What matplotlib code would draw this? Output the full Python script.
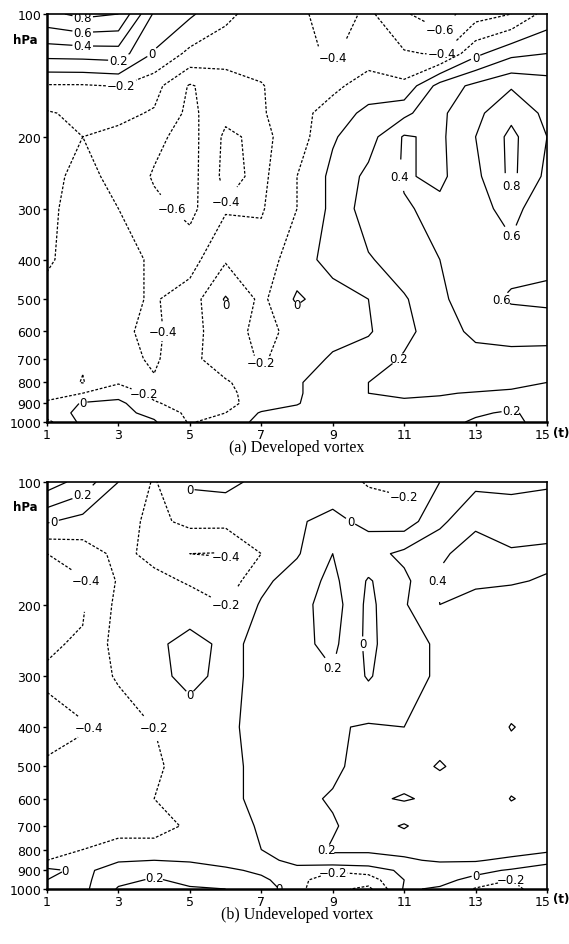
import numpy as np
import matplotlib
matplotlib.use("Agg")
import matplotlib.pyplot as plt
from matplotlib.ticker import FixedLocator, NullLocator
from matplotlib.transforms import ScaledTranslation

# time steps and pressure levels of the grid
t_steps = [1, 2, 3, 4, 5, 6, 7, 8, 9, 10, 11, 12, 13, 14, 15]
levels_hpa = [100, 125, 150, 175, 200, 250, 300, 400, 500, 600, 700, 800, 850, 900, 950, 1000]

# (a) developed vortex, one row per pressure level
developed = [
    [0.75, 0.85, 0.80, 0.17, 0.03, -0.15, -0.30, -0.35, -0.50, -0.36, -0.58, -0.70, -0.48, -0.40, -0.12],
    [0.27, 0.28, 0.30, -0.02, -0.25, -0.33, -0.33, -0.36, -0.42, -0.30, -0.38, -0.42, -0.05, 0.15, 0.20],
    [-0.22, -0.22, -0.19, -0.33, -0.62, -0.48, -0.41, -0.30, -0.25, -0.10, -0.15, 0.28, 0.45, 0.58, 0.50],
    [-0.42, -0.35, -0.35, -0.42, -0.65, -0.45, -0.42, -0.28, -0.10, 0.05, 0.15, 0.36, 0.55, 0.75, 0.55],
    [-0.45, -0.40, -0.45, -0.55, -0.68, -0.36, -0.45, -0.30, -0.02, 0.12, 0.42, 0.36, 0.60, 0.85, 0.60],
    [-0.45, -0.35, -0.45, -0.62, -0.68, -0.34, -0.45, -0.20, 0.05, 0.25, 0.42, 0.36, 0.55, 0.85, 0.55],
    [-0.44, -0.32, -0.40, -0.55, -0.65, -0.42, -0.42, -0.20, 0.05, 0.30, 0.38, 0.45, 0.55, 0.65, 0.50],
    [-0.42, -0.33, -0.35, -0.42, -0.48, -0.22, -0.30, -0.10, 0.08, 0.18, 0.30, 0.40, 0.52, 0.55, 0.55],
    [-0.35, -0.30, -0.35, -0.42, -0.30, 0.02, -0.25, 0.03, -0.10, 0.00, 0.18, 0.35, 0.55, 0.62, 0.65],
    [-0.32, -0.33, -0.36, -0.45, -0.25, -0.12, -0.25, -0.15, -0.08, -0.02, 0.15, 0.30, 0.45, 0.48, 0.45],
    [-0.30, -0.38, -0.33, -0.43, -0.25, -0.10, -0.22, -0.12, 0.03, 0.10, 0.22, 0.30, 0.32, 0.33, 0.35],
    [-0.28, -0.41, -0.22, -0.38, -0.25, -0.22, -0.10, -0.02, 0.10, 0.20, 0.28, 0.28, 0.27, 0.25, 0.20],
    [-0.25, -0.20, -0.08, -0.25, -0.30, -0.25, -0.10, -0.02, 0.10, 0.20, 0.22, 0.21, 0.19, 0.17, 0.15],
    [-0.18, 0.02, 0.05, -0.18, -0.28, -0.25, -0.12, -0.01, 0.10, 0.15, 0.18, 0.17, 0.16, 0.15, 0.13],
    [-0.10, 0.05, 0.05, -0.05, -0.25, -0.20, 0.02, 0.05, 0.10, 0.12, 0.15, 0.15, 0.18, 0.22, 0.13],
    [-0.25, 0.05, 0.02, 0.02, -0.22, -0.10, 0.05, 0.08, 0.05, 0.10, 0.12, 0.15, 0.22, 0.25, 0.12],
]

# (b) undeveloped vortex
undeveloped = [
    [0.50, 0.32, 0.00, -0.22, 0.03, 0.05, -0.05, -0.10, -0.10, -0.22, -0.25, 0.00, 0.15, 0.15, 0.18],
    [0.02, -0.08, -0.12, -0.25, -0.15, -0.15, -0.10, -0.02, 0.05, -0.05, -0.10, 0.15, 0.38, 0.32, 0.30],
    [-0.40, -0.30, -0.15, -0.25, -0.40, -0.41, -0.20, -0.02, 0.20, 0.12, 0.25, 0.38, 0.45, 0.42, 0.45],
    [-0.45, -0.42, -0.18, -0.15, -0.22, -0.32, -0.05, 0.10, 0.25, -0.02, 0.15, 0.42, 0.45, 0.42, 0.38],
    [-0.45, -0.42, -0.15, -0.10, -0.12, -0.20, 0.02, 0.12, 0.30, -0.05, 0.18, 0.40, 0.30, 0.30, 0.30],
    [-0.42, -0.38, -0.12, -0.05, 0.08, -0.05, 0.05, 0.15, 0.25, -0.05, 0.15, 0.22, 0.22, 0.30, 0.30],
    [-0.38, -0.30, -0.18, -0.05, 0.05, -0.05, 0.05, 0.15, 0.18, -0.02, 0.15, 0.22, 0.22, 0.28, 0.30],
    [-0.45, -0.42, -0.30, -0.20, -0.10, -0.05, 0.08, 0.12, 0.18, 0.22, 0.20, 0.30, 0.25, 0.41, 0.32],
    [-0.38, -0.30, -0.25, -0.22, -0.15, -0.05, 0.05, 0.17, 0.16, 0.28, 0.30, 0.42, 0.30, 0.30, 0.28],
    [-0.30, -0.30, -0.28, -0.20, -0.15, -0.05, 0.05, 0.15, 0.22, 0.24, 0.18, 0.25, 0.22, 0.41, 0.32],
    [-0.28, -0.28, -0.25, -0.25, -0.18, -0.08, 0.02, 0.15, 0.18, 0.30, 0.42, 0.25, 0.22, 0.28, 0.30],
    [-0.22, -0.20, -0.15, -0.15, -0.12, -0.05, 0.00, 0.10, 0.22, 0.22, 0.24, 0.24, 0.28, 0.30, 0.25],
    [-0.20, -0.18, -0.02, 0.00, -0.02, -0.10, -0.05, 0.05, 0.15, 0.15, 0.18, 0.22, 0.22, 0.15, 0.05],
    [0.05, -0.05, 0.10, 0.15, 0.10, 0.05, -0.05, -0.05, -0.18, -0.12, 0.05, 0.10, 0.05, -0.02, -0.08],
    [0.00, -0.05, 0.15, 0.22, 0.15, 0.10, 0.05, -0.15, -0.30, -0.30, 0.00, 0.05, -0.05, -0.20, -0.15],
    [-0.05, -0.05, 0.22, 0.30, 0.22, 0.20, 0.15, -0.15, -0.35, -0.45, 0.02, -0.02, -0.22, -0.25, -0.10],
]

contour_levels = [-0.8, -0.6, -0.4, -0.2, 0.0, 0.2, 0.4, 0.6, 0.8]
x_ticks = [1, 3, 5, 7, 9, 11, 13, 15]
y_ticks = [100, 200, 300, 400, 500, 600, 700, 800, 900, 1000]
captions = ["(a) Developed vortex", "(b) Undeveloped vortex"]


def fmt(v):
    if abs(v) < 1e-9:
        return "0"
    return f"{v:.1f}".replace("-", "\u2212")


W, H = 569, 945
fig = plt.figure(figsize=(W / 100, H / 100), dpi=100)

# axes boxes in pixels: left, top, right, bottom
boxes = [(47, 15, 547, 423), (47, 483, 547, 890)]

for field, box, cap in zip([developed, undeveloped], boxes, captions):
    l, t, r, b = box
    ax = fig.add_axes([l / W, 1 - b / H, (r - l) / W, (b - t) / H])
    z = np.array(field)
    styles = ["solid" if lv >= 0 else (0, (2.2, 1.4)) for lv in contour_levels]
    cs = ax.contour(t_steps, levels_hpa, z, levels=contour_levels,
                    colors="black", linewidths=0.9, linestyles=styles)
    labels = ax.clabel(cs, fmt=fmt, fontsize=8.5, inline=True, inline_spacing=1)
    for txt in labels:
        txt.set_rotation(0)

    ax.set_yscale("log")
    ax.set_ylim(1000, 100)
    ax.set_xlim(1, 15)
    ax.yaxis.set_major_locator(FixedLocator(y_ticks))
    ax.yaxis.set_minor_locator(NullLocator())
    ax.set_yticklabels([str(v) for v in y_ticks])
    ax.set_xticks(x_ticks)
    ax.tick_params(axis="both", direction="out", length=3, width=1,
                   labelsize=9, pad=1)
    # nudge the last x label left so "(t)" fits next to it
    last = ax.get_xticklabels()[-1]
    last.set_transform(last.get_transform() +
                       ScaledTranslation(-3 / 72, 0, fig.dpi_scale_trans))
    for side in ["top", "right"]:
        ax.spines[side].set_linewidth(1.2)
    for side in ["left", "bottom"]:
        ax.spines[side].set_linewidth(1.8)

    fig.text(25 / W, 1 - (t + 25) / H, "hPa", ha="center", va="center",
             fontsize=8.5, fontweight="bold")
    fig.text(569 / W, 1 - (b + 10) / H, "(t)", ha="right", va="center",
             fontsize=8.5, fontweight="bold")
    fig.text(297 / W, 1 - (b + 25) / H, cap, ha="center", va="center",
             fontsize=11.5, family="Liberation Serif")

fig.savefig("out.png", dpi=100)
